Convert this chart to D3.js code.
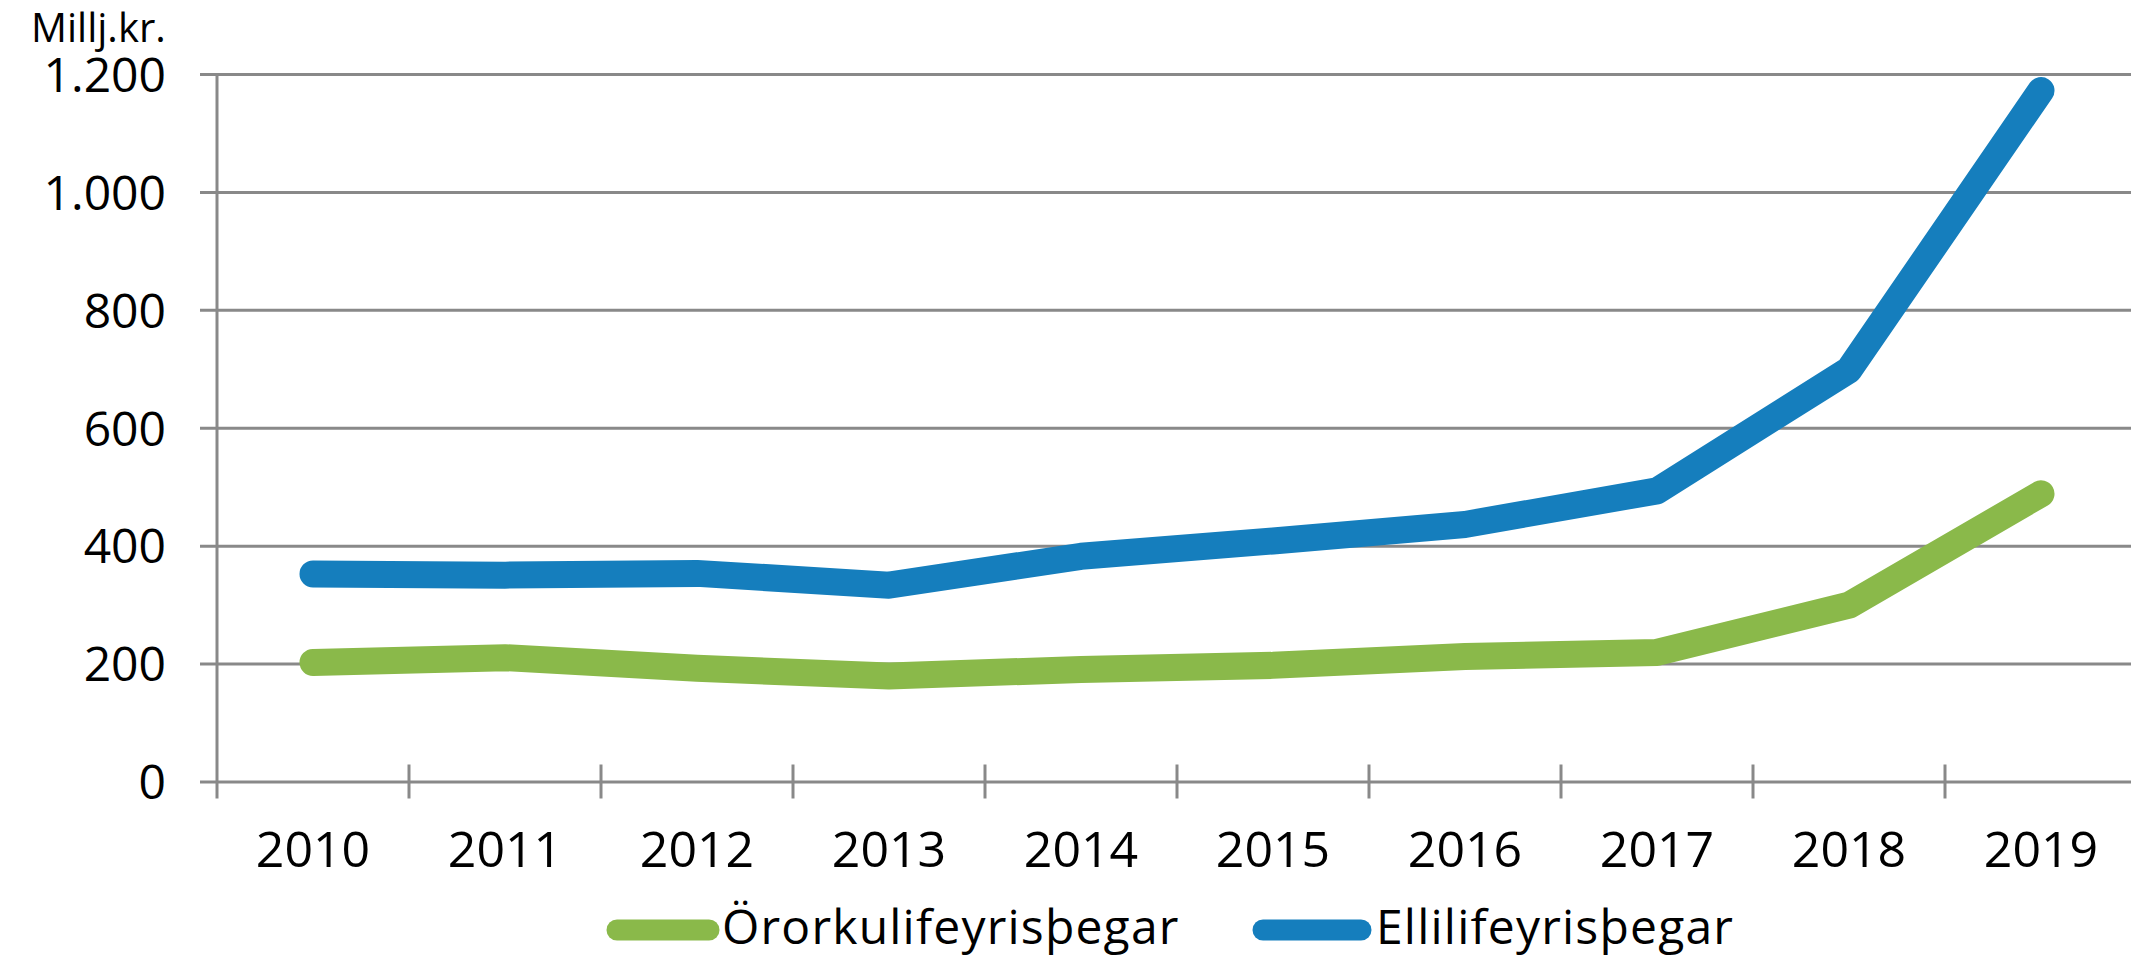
<!DOCTYPE html>
<html>
<head>
<meta charset="utf-8">
<script src="https://cdn.jsdelivr.net/npm/d3@7"></script>
<style>
  html, body { margin: 0; padding: 0; background: #ffffff; }
  svg { display: block; }
  text { font-family: "Open Sans", "Noto Sans", sans-serif; fill: #000; }
</style>
</head>
<body>
<svg id="chart" width="2131" height="958"></svg>
<script>
// ---- data ----
const years = ["2010","2011","2012","2013","2014","2015","2016","2017","2018","2019"];
const ororka = [202, 210, 192, 179, 190, 197, 212, 219, 299, 488];   // Örorkulifeyrisþegar
const elli   = [352, 350, 353, 333, 382, 408, 436, 493, 698, 1172];  // Ellilifeyrisþegar
const yTicks = [0, 200, 400, 600, 800, 1000, 1200];
const seriesNames = ["Örorkulifeyrisþegar", "Ellilifeyrisþegar"];
const seriesColors = ["#8AB94A", "#157EBD"];
const unitLabel = "Millj.kr.";

(function () {
// ---- layout ----
const W = 2131, H = 958;
const mLeft = 217, mRight = 2137, mTop = 74, mBottom = 781.5;
const gridColor = "#898989";

const svg = d3.select("#chart");
const isl = d3.formatLocale({decimal: ",", thousands: ".", grouping: [3], currency: ["", " kr."]});
const fmt = isl.format(",");

const x = d3.scaleBand().domain(years).range([mLeft, mRight]).padding(0);
const y = d3.scaleLinear().domain([0, 1200]).range([mBottom, mTop]);

// y gridlines + labels
const yAxis = d3.axisLeft(y).tickValues(yTicks).tickFormat(fmt)
  .tickSizeInner(-(W - mLeft)).tickSizeOuter(0).tickPadding(51);
const gy = svg.append("g").attr("transform", `translate(${mLeft},0)`).call(yAxis);
gy.select(".domain").remove();
gy.selectAll(".tick line").attr("x1", -17).attr("stroke", gridColor).attr("stroke-width", 3);
gy.selectAll(".tick text").attr("font-size", 48).attr("dy", "0.36em")
  .style("font-family", '"Open Sans", "Noto Sans", sans-serif').attr("fill", "#000");

// y axis line
svg.append("line").attr("x1", mLeft).attr("x2", mLeft).attr("y1", y(1200)).attr("y2", mBottom + 17)
  .attr("stroke", gridColor).attr("stroke-width", 3);

// x category boundary ticks (cross)
const boundaries = years.slice(1).map(d => x(d)).concat([x.range()[1]]);
svg.append("g").selectAll("line").data(boundaries).join("line")
  .attr("x1", d => d).attr("x2", d => d)
  .attr("y1", mBottom - 17).attr("y2", mBottom + 17)
  .attr("stroke", gridColor).attr("stroke-width", 3);

// x labels
const xAxis = d3.axisBottom(x).tickSize(0).tickPadding(0);
const gx = svg.append("g").attr("transform", `translate(0,${mBottom})`).call(xAxis);
gx.select(".domain").remove();
gx.selectAll(".tick text").attr("font-size", 50).attr("dy", 0).attr("y", 85)
  .style("font-family", '"Open Sans", "Noto Sans", sans-serif').attr("fill", "#000");

// unit label
svg.append("text").attr("x", 31).attr("y", 42).attr("font-size", 40).text(unitLabel);

// lines
const line = d3.line()
  .x((d, i) => x(years[i]) + x.bandwidth() / 2)
  .y(d => y(d));
[ororka, elli].forEach((vals, k) => {
  svg.append("path").datum(vals).attr("d", line)
    .attr("fill", "none").attr("stroke", seriesColors[k]).attr("stroke-width", 27)
    .attr("stroke-linecap", "round").attr("stroke-linejoin", "round");
});

// legend
const legY = 930;
const legend = [
  {name: seriesNames[0], color: seriesColors[0], x0: 617, x1: 709, tx: 722},
  {name: seriesNames[1], color: seriesColors[1], x0: 1263, x1: 1361, tx: 1376}
];
legend.forEach(l => {
  svg.append("line").attr("x1", l.x0).attr("x2", l.x1).attr("y1", legY).attr("y2", legY)
    .attr("stroke", l.color).attr("stroke-width", 21).attr("stroke-linecap", "round");
  svg.append("text").attr("x", l.tx).attr("y", legY + 14).attr("font-size", 48)
    .attr("letter-spacing", 1.2).text(l.name);
});
})();
</script>
</body>
</html>
